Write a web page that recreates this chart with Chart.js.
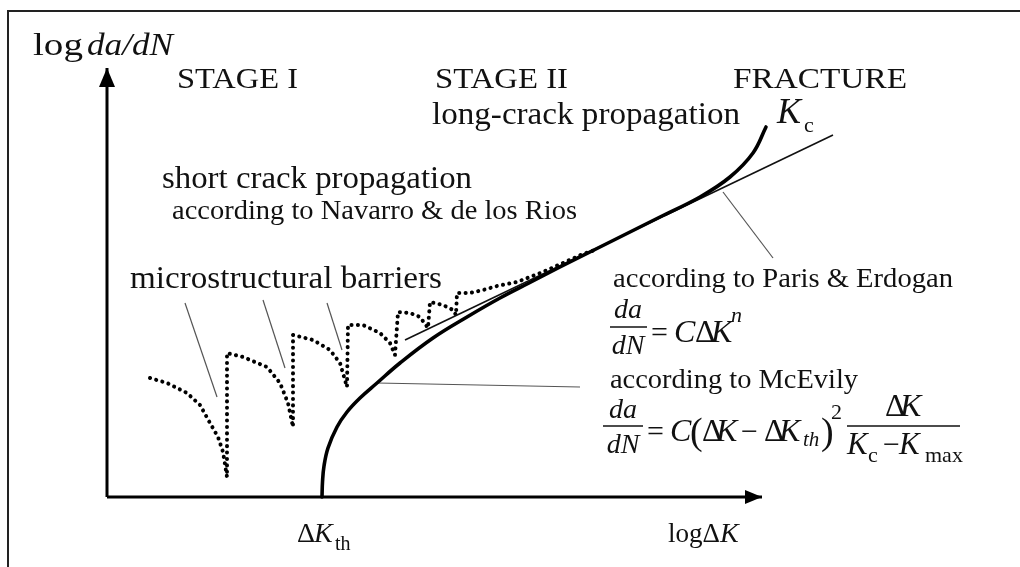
<!DOCTYPE html>
<html>
<head>
<meta charset="utf-8">
<script src="https://cdn.jsdelivr.net/npm/chart.js@4.4.1/dist/chart.umd.min.js"></script>
<style>
html, body { margin: 0; padding: 0; background: #fff; }
#wrap { position: relative; width: 1020px; height: 567px; }
</style>
</head>
<body>
<div id="wrap"><canvas id="chart"></canvas></div>
<script>
// sketch units: x = log dK, y = log da/dN, origin where the two axes cross
const xAxisLine = [[0, 0], [13.1, 0]];
const yAxisLine = [[0, 0], [0, 8.58]];

// long crack curve (McEvily), from dK_th up to K_c
const mainCurve = [
    [4.30, 0.00], [4.31, 0.30], [4.34, 0.62], [4.42, 0.98], [4.60, 1.40],
    [4.80, 1.70], [5.06, 1.98], [5.40, 2.28], [5.86, 2.68], [6.52, 3.18],
    [7.20, 3.60], [7.86, 3.98], [8.46, 4.29], [9.06, 4.60], [9.72, 4.93],
    [10.40, 5.27], [11.06, 5.60], [11.86, 6.00], [12.46, 6.40], [12.92, 6.88],
    [13.18, 7.40]
];

// Paris & Erdogan straight line
const parisLine = [[5.96, 3.14], [14.52, 7.24]];

// short crack (Navarro & de los Rios), arcs blocked by barriers
const shortCrackDots = [
    [0.86, 2.38], [1.20, 2.28], [1.60, 2.08], [1.86, 1.84], [2.06, 1.48],
    [2.22, 1.20], [2.32, 0.90], [2.40, 0.40],
    [2.40, 2.88], [2.72, 2.80], [3.20, 2.60], [3.46, 2.28], [3.62, 1.88], [3.72, 1.40],
    [3.72, 3.24], [4.12, 3.14], [4.46, 2.94], [4.66, 2.68], [4.80, 2.20],
    [4.82, 3.44], [5.12, 3.44], [5.46, 3.28], [5.66, 3.08], [5.76, 2.84],
    [5.82, 3.70], [6.06, 3.68], [6.26, 3.60], [6.42, 3.38],
    [6.46, 3.90], [6.72, 3.84], [6.92, 3.74], [6.98, 3.64],
    [7.00, 4.08], [7.26, 4.08], [7.52, 4.14], [7.80, 4.22], [8.20, 4.30],
    [8.72, 4.50], [9.12, 4.68], [9.52, 4.86], [9.76, 4.94]
];

// leader lines to the labels
const barrierPointers = [
    [[1.56, 3.88], [2.20, 2.00]],
    [[3.12, 3.94], [3.56, 2.58]],
    [[4.40, 3.88], [4.70, 2.94]]
];
const parisPointer = [[12.32, 6.10], [13.32, 4.78]];
const mcevilyPointer = [[5.40, 2.28], [9.46, 2.20]];

const toXY = arr => arr.map(p => ({ x: p[0], y: p[1] }));
const SERIF = '"Liberation Serif", "DejaVu Serif", serif';

function fitText(ctx, str, x, y, size, width, italic) {
    ctx.save();
    ctx.font = (italic ? 'italic ' : '') + size + 'px ' + SERIF;
    const w = ctx.measureText(str).width;
    ctx.translate(x, y);
    ctx.scale(width / w, 1);
    ctx.fillText(str, 0, 0);
    ctx.restore();
}

function run(ctx, str, x, y, size, italic) {
    ctx.font = (italic ? 'italic ' : '') + size + 'px ' + SERIF;
    ctx.fillText(str, x, y);
}

function centered(ctx, str, cx, y, size, italic) {
    ctx.font = (italic ? 'italic ' : '') + size + 'px ' + SERIF;
    ctx.fillText(str, cx - ctx.measureText(str).width / 2, y);
}

function bar(ctx, x1, x2, y) {
    ctx.beginPath();
    ctx.moveTo(x1, y);
    ctx.lineTo(x2, y);
    ctx.lineWidth = 1.5;
    ctx.strokeStyle = '#111';
    ctx.stroke();
}

const framePlugin = {
    id: 'frame',
    beforeDraw(chart) {
        const ctx = chart.ctx;
        ctx.save();
        ctx.fillStyle = '#fff';
        ctx.fillRect(0, 0, chart.width, chart.height);
        ctx.strokeStyle = '#222';
        ctx.lineWidth = 2;
        ctx.beginPath();
        ctx.moveTo(8, chart.height);
        ctx.lineTo(8, 11);
        ctx.lineTo(chart.width, 11);
        ctx.stroke();
        ctx.restore();
    }
};

const arrowPlugin = {
    id: 'arrows',
    afterDatasetsDraw(chart) {
        const { ctx, scales: { x, y } } = chart;
        const xt = xAxisLine[xAxisLine.length - 1];
        const yt = yAxisLine[yAxisLine.length - 1];
        const ax = x.getPixelForValue(xt[0]), ay = y.getPixelForValue(xt[1]);
        const bx = x.getPixelForValue(yt[0]), by = y.getPixelForValue(yt[1]);
        ctx.save();
        ctx.fillStyle = '#000';
        ctx.beginPath();
        ctx.moveTo(ax, ay);
        ctx.lineTo(ax - 17, ay - 7);
        ctx.lineTo(ax - 17, ay + 7);
        ctx.closePath();
        ctx.fill();
        ctx.beginPath();
        ctx.moveTo(bx, by);
        ctx.lineTo(bx - 8, by + 19);
        ctx.lineTo(bx + 8, by + 19);
        ctx.closePath();
        ctx.fill();
        ctx.restore();
    }
};

const textPlugin = {
    id: 'texts',
    afterDraw(chart) {
        const ctx = chart.ctx;
        ctx.save();
        ctx.fillStyle = '#111';
        ctx.textBaseline = 'alphabetic';

        // axis titles
        fitText(ctx, 'log', 33, 55, 32, 50, false);
        fitText(ctx, 'da/dN', 87, 55, 32, 86, true);

        fitText(ctx, 'STAGE I', 177, 88, 30, 121, false);
        fitText(ctx, 'STAGE II', 435, 88, 30, 133, false);
        fitText(ctx, 'FRACTURE', 733, 88, 30, 174, false);
        fitText(ctx, 'long-crack propagation', 432, 124, 31, 308, false);
        run(ctx, 'K', 777, 123, 36, true);
        run(ctx, 'c', 804, 132, 22, false);

        fitText(ctx, 'short crack propagation', 162, 188, 31, 310, false);
        fitText(ctx, 'according to Navarro & de los Rios', 172, 219, 27, 405, false);
        fitText(ctx, 'microstructural barriers', 130, 288, 31, 312, false);

        // Paris & Erdogan
        fitText(ctx, 'according to Paris & Erdogan', 613, 287, 27, 340, false);
        centered(ctx, 'da', 628, 318, 28, true);
        bar(ctx, 610, 647, 327);
        centered(ctx, 'dN', 628, 354, 28, true);
        run(ctx, '=', 651, 342, 30, false);
        run(ctx, 'C', 674, 342, 32, true);
        run(ctx, 'Δ', 695, 342, 32, false);
        run(ctx, 'K', 711, 342, 32, true);
        run(ctx, 'n', 731, 322, 22, true);

        // McEvily
        fitText(ctx, 'according to McEvily', 610, 388, 27, 248, false);
        centered(ctx, 'da', 623, 418, 28, true);
        bar(ctx, 603, 643, 426);
        centered(ctx, 'dN', 623, 453, 28, true);
        run(ctx, '=', 647, 441, 30, false);
        run(ctx, 'C', 670, 441, 32, true);
        run(ctx, '(', 690, 444, 38, false);
        run(ctx, 'Δ', 702, 441, 32, false);
        run(ctx, 'K', 716, 441, 32, true);
        run(ctx, '−', 741, 441, 30, false);
        run(ctx, 'Δ', 764, 441, 32, false);
        run(ctx, 'K', 779, 441, 32, true);
        run(ctx, 'th', 803, 446, 21, true);
        run(ctx, ')', 821, 444, 38, false);
        run(ctx, '2', 831, 419, 22, false);
        run(ctx, 'Δ', 885, 416, 32, false);
        run(ctx, 'K', 900, 416, 32, true);
        bar(ctx, 847, 960, 426);
        run(ctx, 'K', 847, 454, 31, true);
        run(ctx, 'c', 868, 462, 22, false);
        run(ctx, '−', 883, 454, 30, false);
        run(ctx, 'K', 899, 454, 31, true);
        run(ctx, 'max', 925, 462, 22, false);

        // x axis labels
        run(ctx, 'Δ', 297, 542, 28, false);
        run(ctx, 'K', 314, 542, 28, true);
        run(ctx, 'th', 335, 550, 20, false);
        fitText(ctx, 'logΔ', 668, 542, 28, 52, false);
        run(ctx, 'K', 720, 542, 28, true);

        ctx.restore();
    }
};

const thin = { borderColor: '#555', borderWidth: 1.2, tension: 0 };

const datasets = [
    { data: toXY(xAxisLine), borderColor: '#000', borderWidth: 3, tension: 0 },
    { data: toXY(yAxisLine), borderColor: '#000', borderWidth: 3, tension: 0 },
    { data: toXY(mainCurve), borderColor: '#000', borderWidth: 3.6, tension: 0.4, borderCapStyle: 'round' },
    { data: toXY(parisLine), borderColor: '#111', borderWidth: 1.6, tension: 0 },
    {
        data: toXY(shortCrackDots), borderColor: '#000', borderWidth: 4, tension: 0,
        borderDash: [0.1, 6.3], borderCapStyle: 'round', borderJoinStyle: 'round'
    },
    Object.assign({ data: toXY(parisPointer) }, thin),
    Object.assign({ data: toXY(mcevilyPointer) }, thin)
].concat(barrierPointers.map(p => Object.assign({ data: toXY(p) }, thin)));

datasets.forEach(d => { d.showLine = true; d.pointRadius = 0; d.fill = false; });

new Chart(document.getElementById('chart').getContext('2d'), {
    type: 'scatter',
    data: { datasets: datasets },
    options: {
        responsive: true,
        maintainAspectRatio: false,
        devicePixelRatio: 1,
        animation: false,
        events: [],
        layout: { padding: 0 },
        plugins: { legend: { display: false }, tooltip: { enabled: false } },
        scales: {
            x: { type: 'linear', min: -2.14, max: 18.26, display: false },
            y: { type: 'linear', min: -1.4, max: 9.94, display: false }
        }
    },
    plugins: [framePlugin, arrowPlugin, textPlugin]
});
</script>
</body>
</html>
